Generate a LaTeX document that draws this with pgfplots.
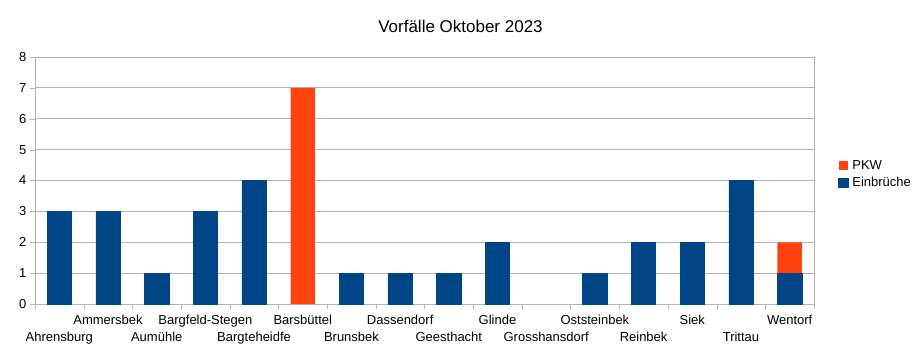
\documentclass[border=0pt]{standalone}
\usepackage{pgfplots}
\pgfplotsset{compat=1.18}
\usepackage{fontspec}
\setmainfont{Liberation Sans}
\definecolor{lblue}{HTML}{004586}
\definecolor{lorange}{HTML}{FF420E}
\definecolor{lgrid}{HTML}{B3B3B3}
\begin{document}
\begin{tikzpicture}
\useasboundingbox (-35pt,-47pt) rectangle (885pt,304pt);
\begin{axis}[
  at={(0pt,0pt)}, anchor=south west,
  scale only axis, width=779pt, height=247pt,
  ybar stacked, bar width=0.5,
  xmin=-0.5, xmax=15.5, ymin=0, ymax=8,
  ytick={0,...,8},
  xtick={0,...,15},
  xticklabels={{\strut\\Ahrensburg},Ammersbek,{\strut\\Aumühle},Bargfeld-Stegen,{\strut\\Bargteheidfe},Barsbüttel,{\strut\\Brunsbek},Dassendorf,{\strut\\Geesthacht},Glinde,{\strut\\Grosshansdorf},Oststeinbek,{\strut\\Reinbek},Siek,{\strut\\Trittau},Wentorf},
  xticklabel style={align=center, font=\fontsize{13}{15.5}\selectfont, anchor=north, yshift=-3pt},
  yticklabel style={font=\fontsize{13}{15}\selectfont},
  /pgf/number format/assume math mode=true,
  major x tick style={draw=none},
  minor xtick={-0.5,0.5,...,15.5},
  minor x tick style={lgrid},
  y tick style={lgrid},
  tick align=outside, tick pos=left,
  major tick length=5pt, minor tick length=5pt,
  ymajorgrids, grid style={lgrid, line width=0.8pt},
  axis line style={lgrid, line width=0.8pt},
  title={Vorfälle Oktober 2023},
  title style={font=\fontsize{17}{20}\selectfont, yshift=15pt, xshift=36pt},
  legend style={at={(1.027,0.526)}, anchor=west, draw=none, fill=none,
    font=\fontsize{13}{15}\selectfont, row sep=2pt,
    legend cell align=left},
  reverse legend,
  legend image code/.code={\fill[#1] (0pt,-4.5pt) rectangle (9.5pt,4.5pt);},
]
\addplot[fill=lblue, draw=lblue, line width=0.6pt] coordinates {
 (0,3) (1,3) (2,1) (3,3) (4,4) (5,0) (6,1) (7,1) (8,1) (9,2) (10,0) (11,1) (12,2) (13,2) (14,4) (15,1)};
\addlegendentry{\hspace{2pt}Einbrüche}
\addplot[fill=lorange, draw=none] coordinates {
 (0,0) (1,0) (2,0) (3,0) (4,0) (5,7) (6,0) (7,0) (8,0) (9,0) (10,0) (11,0) (12,0) (13,0) (14,0) (15,1)};
\addlegendentry{\hspace{2pt}PKW}
\end{axis}
\end{tikzpicture}
\end{document}
